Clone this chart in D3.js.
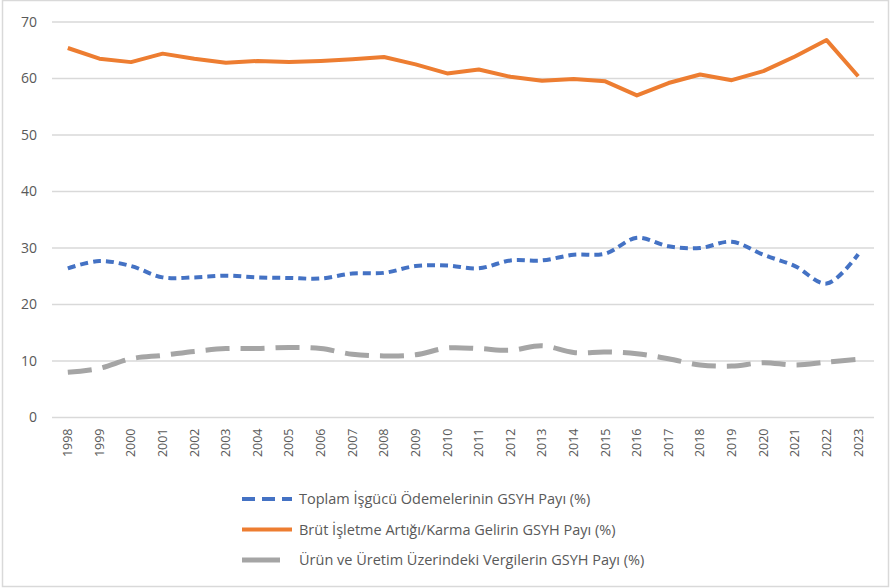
<!DOCTYPE html>
<html>
<head>
<meta charset="utf-8">
<script src="https://cdn.jsdelivr.net/npm/d3@7"></script>
<style>
  body { margin: 0; background: #fff; }
  text { font-family: 'Open Sans', sans-serif; fill: #595959; }
</style>
</head>
<body>
<svg id="chart" width="891" height="588"></svg>
<script>
const years = ['1998', '1999', '2000', '2001', '2002', '2003', '2004', '2005', '2006', '2007', '2008', '2009', '2010',
  '2011', '2012', '2013', '2014', '2015', '2016', '2017', '2018', '2019', '2020', '2021', '2022', '2023'];

const labourShare = [26.4, 27.7, 26.8, 24.8, 24.8, 25.1, 24.8, 24.7, 24.6, 25.5, 25.6, 26.8, 26.9,
  26.4, 27.8, 27.8, 28.8, 29.0, 31.8, 30.3, 30.0, 31.1, 28.8, 26.8, 23.7, 28.9];
const surplusShare = [65.4, 63.5, 62.9, 64.4, 63.5, 62.8, 63.1, 62.9, 63.1, 63.4, 63.8, 62.5, 60.9,
  61.6, 60.3, 59.6, 59.9, 59.5, 57.0, 59.2, 60.7, 59.7, 61.3, 63.9, 66.8, 60.4];
const taxShare = [8.0, 8.7, 10.4, 11.0, 11.7, 12.2, 12.2, 12.4, 12.2, 11.2, 10.9, 11.1, 12.3,
  12.2, 11.9, 12.7, 11.5, 11.6, 11.3, 10.4, 9.3, 9.1, 9.7, 9.3, 9.8, 10.3];

const yTicks = [0, 10, 20, 30, 40, 50, 60, 70];

const seriesNames = [
  'Toplam İşgücü Ödemelerinin GSYH Payı (%)',
  'Brüt İşletme Artığı/Karma Gelirin GSYH Payı (%)',
  'Ürün ve Üretim Üzerindeki Vergilerin GSYH Payı (%)'
];

const series = [
  { name: seriesNames[0], values: labourShare, color: '#4472C4', width: 4, dash: '8,5', legendDash: '13,7', curve: d3.curveCatmullRom },
  { name: seriesNames[1], values: surplusShare, color: '#ED7D31', width: 4, dash: null, legendDash: null, curve: d3.curveLinear },
  { name: seriesNames[2], values: taxShare, color: '#A5A5A5', width: 5, dash: '24,11', legendDash: '38,20', curve: d3.curveCatmullRom }
];

const svg = d3.select('#chart');

// outer chart border
svg.append('rect')
  .attr('x', 2.5).attr('y', 0.5)
  .attr('width', 886).attr('height', 586)
  .style('fill', '#fff')
  .style('stroke', '#d9d9d9')
  .style('stroke-width', 1.5);

const margin = { top: 22, left: 52, right: 17, bottom: 170 };
const plotW = 891 - margin.left - margin.right;
const plotH = 588 - margin.top - margin.bottom;

const x = d3.scaleBand().domain(years).range([margin.left, margin.left + plotW]);
const y = d3.scaleLinear().domain([0, 70]).range([margin.top + plotH - 0.5, margin.top]);

// gridlines
svg.append('g')
  .selectAll('line')
  .data(yTicks)
  .enter().append('line')
  .attr('x1', margin.left)
  .attr('x2', margin.left + plotW)
  .attr('y1', d => y(d))
  .attr('y2', d => y(d))
  .style('stroke', '#d9d9d9')
  .style('stroke-width', 1.5);

// y labels
svg.append('g')
  .selectAll('text')
  .data(yTicks)
  .enter().append('text')
  .attr('x', 37)
  .attr('y', d => y(d))
  .attr('dy', '0.35em')
  .style('text-anchor', 'end')
  .style('font-size', '14px')
  .text(d => d);

// x labels
svg.append('g')
  .selectAll('text')
  .data(years)
  .enter().append('text')
  .attr('transform', d => 'translate(' + (x(d) + x.bandwidth() / 2) + ',' + (y(0) + 11) + ') rotate(-90)')
  .attr('dy', '0.35em')
  .style('text-anchor', 'end')
  .style('font-size', '12.5px')
  .text(d => d);

// lines, orange drawn last so it sits on top
const drawOrder = [series[2], series[0], series[1]];
drawOrder.forEach(s => {
  const line = d3.line()
    .x((d, i) => x(years[i]) + x.bandwidth() / 2)
    .y(d => y(d))
    .curve(s.curve);
  svg.append('path')
    .datum(s.values)
    .attr('d', line)
    .style('fill', 'none')
    .style('stroke', s.color)
    .style('stroke-width', s.width)
    .style('stroke-dasharray', s.dash)
    .style('stroke-linejoin', 'round');
});

// legend
const legend = svg.append('g').attr('transform', 'translate(242, 499)');
const rows = legend.selectAll('.item')
  .data(series)
  .enter().append('g')
  .attr('class', 'item')
  .attr('transform', (d, i) => 'translate(0,' + i * 30.5 + ')');

rows.append('line')
  .attr('x1', 0).attr('x2', 50)
  .attr('y1', 0).attr('y2', 0)
  .style('stroke', d => d.color)
  .style('stroke-width', d => d.width)
  .style('stroke-dasharray', d => d.legendDash);

rows.append('text')
  .attr('x', 57)
  .attr('dy', '0.35em')
  .style('font-size', '14.5px')
  .text(d => d.name);
</script>
</body>
</html>
